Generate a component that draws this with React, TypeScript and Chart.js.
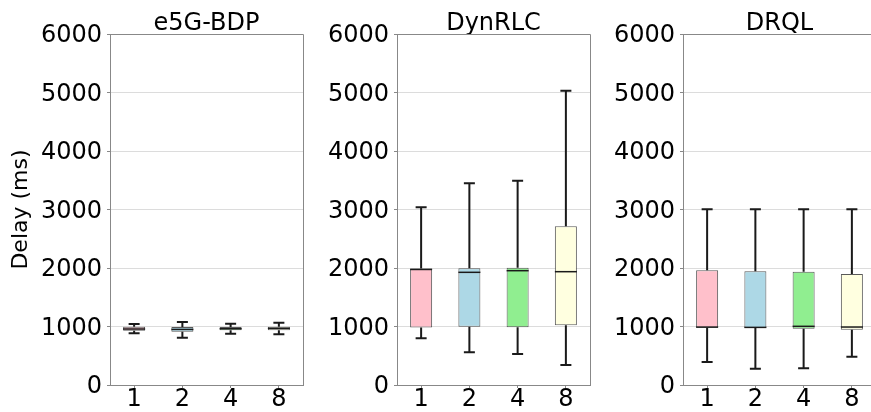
import React, { useEffect, useRef } from 'react';
import { Chart, registerables } from 'chart.js';

Chart.register(...registerables);

// ---- data ----
const CATEGORIES = ['1', '2', '4', '8'];
const Y_TICKS = [0, 1000, 2000, 3000, 4000, 5000, 6000];
const Y_LABEL = 'Delay (ms)';
const BOX_COLORS = ['#FFC0CB', '#ADD8E6', '#90EE90', '#FFFFE0'];

const e5gMin = [884, 809, 877, 866];
const e5gQ1 = [928, 911, 935, 935];
const e5gMedian = [957, 950, 962, 968];
const e5gQ3 = [997, 991, 991, 997];
const e5gMax = [1043, 1077, 1048, 1065];

const dynMin = [798, 558, 530, 342];
const dynQ1 = [985, 997, 986, 1020];
const dynMedian = [1975, 1926, 1954, 1937];
const dynQ3 = [1990, 1994, 2006, 2712];
const dynMax = [3037, 3447, 3493, 5031];

const drqlMin = [393, 279, 285, 484];
const drqlQ1 = [980, 974, 963, 946];
const drqlMedian = [990, 985, 1003, 991];
const drqlQ3 = [1960, 1943, 1937, 1897];
const drqlMax = [3003, 3003, 3003, 3003];

const PANELS = [
  { title: 'e5G-BDP', min: e5gMin, q1: e5gQ1, median: e5gMedian, q3: e5gQ3, max: e5gMax },
  { title: 'DynRLC', min: dynMin, q1: dynQ1, median: dynMedian, q3: dynQ3, max: dynMax },
  { title: 'DRQL', min: drqlMin, q1: drqlQ1, median: drqlMedian, q3: drqlQ3, max: drqlMax },
];

// ---- styling ----
const FONT = 'DejaVu Sans';
const FRAME = '#888888';
const GRID = '#dcdcdc';
const CANVAS_W = 306;
const CANVAS_H = 412;
const PANEL_LEFTS = [0, 287, 573];

const boxWhiskerPlugin = {
  id: 'boxWhisker',
  afterDatasetsDraw(chart: any, _args: any, opts: any) {
    const stats = opts.stats;
    if (!stats) return;
    const { ctx } = chart;
    const y = chart.scales.y;
    const meta = chart.getDatasetMeta(0);
    ctx.save();
    meta.data.forEach((bar: any, i: number) => {
      const x = bar.x;
      const w = bar.width;
      const pMin = y.getPixelForValue(stats.min[i]);
      const pQ1 = y.getPixelForValue(stats.q1[i]);
      const pMed = y.getPixelForValue(stats.median[i]);
      const pQ3 = y.getPixelForValue(stats.q3[i]);
      const pMax = y.getPixelForValue(stats.max[i]);
      ctx.strokeStyle = '#1a1a1a';
      ctx.lineWidth = 2;
      ctx.beginPath();
      ctx.moveTo(x, pQ3);
      ctx.lineTo(x, pMax);
      ctx.moveTo(x, pQ1);
      ctx.lineTo(x, pMin);
      ctx.moveTo(x - w / 4, pMax);
      ctx.lineTo(x + w / 4, pMax);
      ctx.moveTo(x - w / 4, pMin);
      ctx.lineTo(x + w / 4, pMin);
      ctx.stroke();
      ctx.lineWidth = 1.5;
      ctx.beginPath();
      ctx.moveTo(x - w / 2, pMed);
      ctx.lineTo(x + w / 2, pMed);
      ctx.stroke();
    });
    ctx.restore();
  },
};

const framePlugin = {
  id: 'frame',
  afterDraw(chart: any) {
    const { ctx, chartArea } = chart;
    const { top, right } = chartArea;
    ctx.save();
    ctx.strokeStyle = FRAME;
    ctx.lineWidth = 1;
    ctx.beginPath();
    const ty = Math.floor(top) + 0.5;
    const rx = Math.floor(right) + 0.5;
    ctx.moveTo(chartArea.left, ty);
    ctx.lineTo(rx, ty);
    ctx.lineTo(rx, chartArea.bottom);
    ctx.stroke();
    ctx.restore();
  },
};

function Panel({ panel, left, showYTitle }: { panel: any; left: number; showYTitle: boolean }) {
  const ref = useRef<HTMLCanvasElement | null>(null);
  useEffect(() => {
    if (!ref.current) return;
    const chart = new Chart(ref.current, {
      type: 'bar',
      data: {
        labels: CATEGORIES,
        datasets: [
          {
            data: panel.q1.map((v: number, i: number) => [v, panel.q3[i]]),
            backgroundColor: BOX_COLORS,
            borderColor: 'rgba(60,60,60,0.85)',
            borderWidth: 1,
            borderSkipped: false,
            categoryPercentage: 1,
            barPercentage: 0.456,
          } as any,
        ],
      },
      options: {
        responsive: false,
        animation: false,
        devicePixelRatio: 1,
        layout: { padding: { left: 0, right: 3, top: 0, bottom: 0 } },
        plugins: {
          legend: { display: false },
          tooltip: { enabled: false },
          title: {
            display: true,
            text: panel.title,
            color: '#000',
            fullSize: false,
            font: { family: FONT, size: 24, weight: 'normal', lineHeight: '20px' },
            padding: { top: 14, bottom: 0 },
          },
          boxWhisker: { stats: panel },
        } as any,
        scales: {
          x: {
            type: 'category',
            offset: true,
            afterFit: (s: any) => {
              s.height = 27;
            },
            grid: {
              display: true,
              offset: false,
              drawOnChartArea: false,
              drawTicks: true,
              tickLength: 3,
              tickColor: FRAME,
            },
            border: { display: true, color: FRAME },
            ticks: {
              color: '#000',
              padding: 0,
              font: { family: FONT, size: 24, lineHeight: 1 },
            },
          },
          y: {
            min: 0,
            max: 6000,
            afterFit: (s: any) => {
              s.width = 110;
            },
            afterBuildTicks: (s: any) => {
              s.ticks = Y_TICKS.map((v) => ({ value: v }));
            },
            grid: {
              display: true,
              color: GRID,
              tickColor: FRAME,
              tickLength: 3,
              lineWidth: 1,
            },
            border: { display: true, color: FRAME },
            ticks: {
              color: '#000',
              padding: 5,
              labelOffset: 2,
              font: { family: FONT, size: 24 },
              callback: (v: any) => String(v),
            },
            title: {
              display: showYTitle,
              text: Y_LABEL,
              color: '#000',
              font: { family: FONT, size: 22 },
              padding: { top: 8, bottom: 0 },
            },
          },
        },
      } as any,
      plugins: [boxWhiskerPlugin, framePlugin],
    });
    return () => chart.destroy();
  }, [panel, showYTitle]);
  return (
    <canvas
      ref={ref}
      width={CANVAS_W}
      height={CANVAS_H}
      style={{ position: 'absolute', left, top: 0, width: CANVAS_W, height: CANVAS_H }}
    />
  );
}

export default function App() {
  return (
    <div
      style={{
        position: 'fixed',
        left: 0,
        top: 0,
        width: 871,
        height: 412,
        overflow: 'hidden',
        background: '#fff',
      }}
    >
      {PANELS.map((p, i) => (
        <Panel key={p.title} panel={p} left={PANEL_LEFTS[i]} showYTitle={i === 0} />
      ))}
    </div>
  );
}
